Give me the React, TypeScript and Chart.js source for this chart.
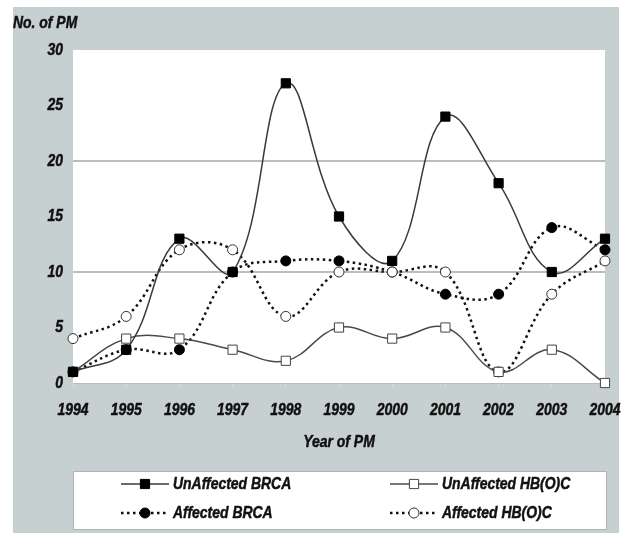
import React, { useEffect, useRef } from "react";
import { Chart, registerables } from "chart.js";

Chart.register(...registerables);

const years = ["1994", "1995", "1996", "1997", "1998", "1999", "2000", "2001", "2002", "2003", "2004"];
const unaffectedBRCA = [1, 3, 13, 10, 27, 15, 11, 24, 18, 10, 13];
const unaffectedHBOC = [1, 4, 4, 3, 2, 5, 4, 5, 1, 3, 0];
const affectedBRCA = [1, 3, 3, 10, 11, 11, 10, 8, 8, 14, 12];
const affectedHBOC = [4, 6, 12, 12, 6, 10, 10, 10, 1, 8, 11];
const gridValues = [10, 20];
const seriesNames = ["UnAffected BRCA", "UnAffected HB(O)C", "Affected BRCA", "Affected HB(O)C"];
const yTitle = "No. of PM";
const xTitle = "Year of PM";

const FAMILY = "'Liberation Sans', Arial, sans-serif";
const FONT = { family: FAMILY, size: 17, style: "italic" as const, weight: "bold" as const };
const TEXT = "#111111";
const BG = "#c7d0d0";
const NARROW = 0.82;

// condensed, slightly heavier text: squeeze glyphs horizontally around the anchor point
const narrowTextPlugin = {
  id: "narrowText",
  beforeDraw(chart: any) {
    const ctx = chart.ctx;
    if (ctx.__narrowPatched) return;
    const orig = ctx.fillText.bind(ctx);
    const origStroke = ctx.strokeText.bind(ctx);
    ctx.fillText = function (text: string, x: number, y: number, maxWidth?: number) {
      ctx.save();
      ctx.translate(x, y);
      ctx.scale(NARROW, 1);
      ctx.setLineDash([]);
      ctx.strokeStyle = ctx.fillStyle;
      ctx.lineWidth = 0.5;
      ctx.lineJoin = "round";
      if (maxWidth !== undefined) {
        orig(text, 0, 0, maxWidth / NARROW);
        origStroke(text, 0, 0, maxWidth / NARROW);
      } else {
        orig(text, 0, 0);
        origStroke(text, 0, 0);
      }
      ctx.restore();
    };
    ctx.__narrowPatched = true;
  },
};

const backgroundPlugin = {
  id: "bgPlugin",
  beforeDraw(chart: any) {
    const { ctx, chartArea } = chart;
    ctx.save();
    ctx.fillStyle = "#ffffff";
    ctx.fillRect(0, 0, chart.width, chart.height);
    ctx.fillStyle = BG;
    ctx.fillRect(13, 7, chart.width - 17, chart.height - 7);
    ctx.fillStyle = "#ffffff";
    ctx.fillRect(chartArea.left, chartArea.top, chartArea.right - chartArea.left, chartArea.bottom - chartArea.top);
    ctx.restore();
  },
};

const legendPlugin = {
  id: "customLegend",
  afterDraw(chart: any) {
    const { ctx, chartArea } = chart;
    const boxL = chartArea.left;
    const boxR = chartArea.right + 2;
    const boxT = 471;
    const boxB = 530;
    ctx.save();
    ctx.fillStyle = "#ffffff";
    ctx.fillRect(boxL, boxT, boxR - boxL, boxB - boxT);
    ctx.strokeStyle = "#b0b4b4";
    ctx.lineWidth = 1;
    ctx.strokeRect(boxL + 0.5, boxT + 0.5, boxR - boxL - 1, boxB - boxT - 1);
    const cols = [boxL + 48, boxL + 317];
    const rows = [484, 513];
    chart.data.datasets.forEach((ds: any, i: number) => {
      const x0 = cols[i % 2];
      const y = rows[Math.floor(i / 2)];
      const x1 = x0 + 48;
      ctx.save();
      ctx.strokeStyle = ds.borderColor;
      ctx.lineWidth = ds.borderWidth;
      ctx.setLineDash(ds.borderDash || []);
      ctx.beginPath();
      ctx.moveTo(x0, y);
      ctx.lineTo(x1, y);
      ctx.stroke();
      ctx.setLineDash([]);
      const cx = (x0 + x1) / 2;
      ctx.fillStyle = ds.pointBackgroundColor;
      ctx.strokeStyle = ds.pointBorderColor;
      ctx.lineWidth = ds.pointBorderWidth;
      ctx.beginPath();
      if (ds.pointStyle === "rect") {
        const s = Math.SQRT1_2 * ds.pointRadius;
        ctx.rect(cx - s, y - s, 2 * s, 2 * s);
      } else {
        ctx.arc(cx, y, ds.pointRadius, 0, Math.PI * 2);
      }
      ctx.fill();
      ctx.stroke();
      ctx.restore();
      ctx.fillStyle = TEXT;
      ctx.font = `italic bold 17px ${FAMILY}`;
      ctx.textBaseline = "middle";
      ctx.textAlign = "left";
      ctx.fillText(ds.label, x1 + 4, y);
    });
    ctx.restore();
  },
};

export default function App() {
  const ref = useRef<HTMLCanvasElement>(null);
  useEffect(() => {
    if (!ref.current) return;
    const chart = new Chart(ref.current, {
      type: "line",
      data: {
        labels: years,
        datasets: [
          {
            label: seriesNames[0],
            data: unaffectedBRCA,
            borderColor: "#3a3a3a",
            borderWidth: 1.5,
            pointStyle: "rect",
            pointRadius: 6.5,
            pointBackgroundColor: "#000000",
            pointBorderColor: "#000000",
            pointBorderWidth: 1,
            tension: 0.4,
            order: 0,
            clip: false,
          },
          {
            label: seriesNames[1],
            data: unaffectedHBOC,
            borderColor: "#4a4a4a",
            borderWidth: 1.5,
            pointStyle: "rect",
            pointRadius: 6.5,
            pointBackgroundColor: "#ffffff",
            pointBorderColor: "#444444",
            pointBorderWidth: 1,
            tension: 0.4,
            order: 1,
            clip: false,
          },
          {
            label: seriesNames[2],
            data: affectedBRCA,
            borderColor: "#111111",
            borderWidth: 2.5,
            borderDash: [2.5, 3.5],
            pointStyle: "circle",
            pointRadius: 5,
            pointBackgroundColor: "#000000",
            pointBorderColor: "#000000",
            pointBorderWidth: 1,
            tension: 0.4,
            order: 3,
            clip: false,
          },
          {
            label: seriesNames[3],
            data: affectedHBOC,
            borderColor: "#111111",
            borderWidth: 2.5,
            borderDash: [2.5, 3.5],
            pointStyle: "circle",
            pointRadius: 5,
            pointBackgroundColor: "#ffffff",
            pointBorderColor: "#333333",
            pointBorderWidth: 1,
            tension: 0.4,
            order: 2,
            clip: false,
          },
        ],
      },
      options: {
        animation: false,
        responsive: false,
        maintainAspectRatio: false,
        devicePixelRatio: 1,
        layout: { padding: { left: 13, right: 18, top: 13, bottom: 73 } },
        plugins: {
          legend: { display: false },
          tooltip: { enabled: false },
          title: {
            display: true,
            text: yTitle,
            align: "start",
            color: TEXT,
            font: FONT,
            padding: { top: 0, bottom: 16.6 },
          },
        },
        scales: {
          x: {
            type: "category",
            offset: false,
            grid: {
              display: true,
              drawOnChartArea: false,
              drawTicks: true,
              tickLength: 4,
              tickColor: "#d8dcdc",
            },
            border: { display: true, color: "#b8bcbc", width: 1 },
            ticks: {
              color: TEXT,
              font: FONT,
              padding: 13,
              autoSkip: false,
              maxRotation: 0,
              minRotation: 0,
            },
            title: {
              display: true,
              text: xTitle,
              color: TEXT,
              font: FONT,
              padding: { top: 0, bottom: 7 },
            },
            afterFit: (scale: any) => {
              scale.height = 77;
              scale.paddingLeft = 0;
              scale.paddingRight = 0;
            },
          },
          y: {
            min: 0,
            max: 30,
            ticks: {
              stepSize: 5,
              color: TEXT,
              font: FONT,
              padding: 10,
            },
            grid: {
              drawTicks: false,
              lineWidth: 2,
              color: (c: any) => (gridValues.includes(c.tick?.value) ? "#bdbdbd" : "rgba(0,0,0,0)"),
            },
            border: { display: false },
            afterFit: (scale: any) => {
              scale.width = 60;
              scale.paddingTop = 0;
              scale.paddingBottom = 0;
            },
          },
        },
      },
      plugins: [narrowTextPlugin, backgroundPlugin, legendPlugin],
    });
    return () => chart.destroy();
  }, []);
  return (
    <div style={{ position: "absolute", left: 0, top: 0, width: 623, height: 533 }}>
      <canvas ref={ref} width={623} height={533} style={{ display: "block", width: 623, height: 533 }} />
    </div>
  );
}
